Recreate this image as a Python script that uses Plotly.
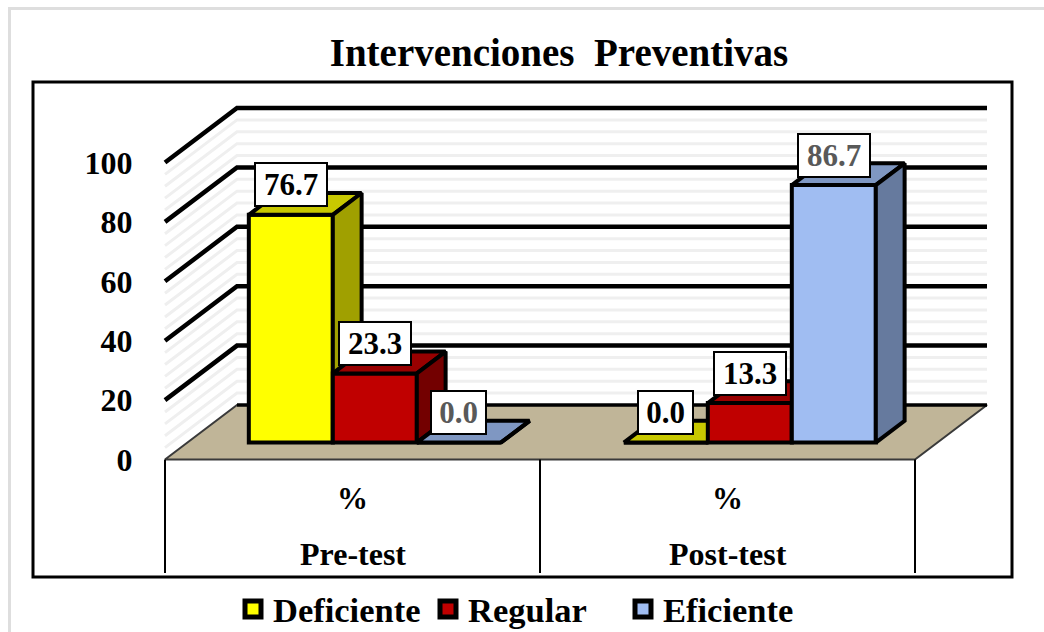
import plotly.graph_objects as go

# ---- data ----
categories = ["Pre-test", "Post-test"]
sub_label = "%"
deficiente = [76.7, 0.0]
regular = [23.3, 13.3]
eficiente = [0.0, 86.7]
series_names = ["Deficiente", "Regular", "Eficiente"]
y_ticks = [0, 20, 40, 60, 80, 100]
minor_step_values = [v for v in range(0, 101, 4) if v % 20 != 0]
title_text = "Intervenciones  Preventivas"

# ---- styles ----
FONT = "Liberation Serif, Times New Roman, serif"
front_colors = ["#FFFF00", "#C00000", "#A0BDF2"]
top_colors = ["#C8C800", "#990000", "#7F97C2"]
side_colors = ["#A0A000", "#730000", "#667A9E"]
label_colors = ["#000000", "#000000", "#595959"]

W, H = 1044, 632
FX0, FX1, FY0, FY1 = 33, 1012, 82, 577   # frame in px
PX0, PX_UNIT = 165, 375                  # x=0 px and px per category
PY0, PY_UNIT = 459.5, 2.97               # y=0 px and px per value unit
DX, DY = 72 / PX_UNIT, 54.5 / PY_UNIT    # oblique floor depth
F0, F1 = 0.31, 0.71                      # bar depth range
BAR_W = 84 / PX_UNIT

xr = [(FX0 - PX0) / PX_UNIT, (FX1 - PX0) / PX_UNIT]
yr = [(PY0 - FY1) / PY_UNIT, (PY0 - FY0) / PY_UNIT]
LOW = (PY0 - 573) / PY_UNIT

fig = go.Figure()


def line(xs, ys, color, width, axes=("x", "y")):
    fig.add_trace(go.Scatter(x=xs, y=ys, mode="lines", line=dict(color=color, width=width),
                             xaxis=axes[0], yaxis=axes[1], showlegend=False, hoverinfo="skip"))


def poly(xs, ys, fill, color="#000000", width=4, axes=("x", "y")):
    fig.add_trace(go.Scatter(x=xs + xs[:1], y=ys + ys[:1], mode="lines", fill="toself", fillcolor=fill,
                             line=dict(color=color, width=width), xaxis=axes[0], yaxis=axes[1],
                             showlegend=False, hoverinfo="skip"))


n = len(categories)
# minor then major gridlines on side and back walls
for v in minor_step_values:
    line([0, DX, n + DX], [v, v + DY, v + DY], "#EFEFEF", 3)
for v in y_ticks[1:]:
    line([0, DX, n + DX], [v, v + DY, v + DY], "#000000", 4.5)
# floor
poly([0, DX, n + DX, n], [0, DY, DY, 0], "#C0B598", "#3A3A3A", 2)
line([DX, n + DX], [DY, DY], "#000000", 3.5)
# category separators
for i in range(n + 1):
    line([i, i], [0, LOW], "#000000", 2)

# bars, one overlaid subplot per series so that the draw order is back to front
series = [deficiente, regular, eficiente]
annotations = []
for s, values in enumerate(series):
    ax = ("x%d" % (s + 2), "y%d" % (s + 2))
    centres = [i + 0.5 + (s - 1) * BAR_W + F0 * DX for i in range(n)]
    base = F0 * DY
    fig.add_trace(go.Bar(x=centres, y=values, base=[base] * n, width=BAR_W, xaxis=ax[0], yaxis=ax[1],
                         marker=dict(color=front_colors[s], line=dict(color="#000000", width=4)),
                         showlegend=False, hoverinfo="skip"))
    ddx, ddy = (F1 - F0) * DX, (F1 - F0) * DY
    for c, v in zip(centres, values):
        l, r, t = c - BAR_W / 2, c + BAR_W / 2, base + v
        poly([l, r, r + ddx, l + ddx], [t, t, t + ddy, t + ddy], top_colors[s], axes=ax)
        poly([r, r + ddx, r + ddx, r], [base, base + ddy, t + ddy, t], side_colors[s], axes=ax)
        txt = "%.1f" % v
        annotations.append(dict(x=c, y=t, xref="x", yref="y", yshift=30, text="<b>%s</b>" % txt, showarrow=False,
                                font=dict(family=FONT, size=31, color=label_colors[s]),
                                bgcolor="#FFFFFF", bordercolor="#000000", borderwidth=2,
                                width=17 * len(txt), height=39, xanchor="center", yanchor="middle"))

# legend keys
for s, name in enumerate(series_names):
    fig.add_trace(go.Scatter(x=[None], y=[None], mode="markers", name=name,
                             marker=dict(symbol="square", size=16, color=front_colors[s],
                                         line=dict(color="#000000", width=5)), hoverinfo="skip"))

# category labels
for i, cat in enumerate(categories):
    annotations.append(dict(x=i + 0.5, y=(PY0 - 498) / PY_UNIT, xref="x", yref="y", text="<b>%s</b>" % sub_label,
                            showarrow=False, font=dict(family=FONT, size=31, color="#000000")))
    annotations.append(dict(x=i + 0.5, y=(PY0 - 554) / PY_UNIT, xref="x", yref="y", text="<b>%s</b>" % cat,
                            showarrow=False, font=dict(family=FONT, size=32, color="#000000")))

shapes = [
    dict(type="rect", xref="paper", yref="paper", x0=9.5 / W, x1=1.1, y0=-0.1, y1=1 - 8.5 / H,
         line=dict(color="#DEDEDE", width=3), layer="below"),
    dict(type="rect", xref="paper", yref="paper", x0=FX0 / W, x1=FX1 / W, y0=1 - FY1 / H, y1=1 - FY0 / H,
         line=dict(color="#000000", width=3), layer="below"),
]

dom_x = [FX0 / W, FX1 / W]
dom_y = [1 - FY1 / H, 1 - FY0 / H]
layout = dict(
    width=W, height=H, margin=dict(l=0, r=0, t=0, b=0, pad=0, autoexpand=False),
    paper_bgcolor="#FFFFFF", plot_bgcolor="rgba(0,0,0,0)",
    title=dict(text="<b>%s</b>" % title_text, x=559 / W, xanchor="center", xref="paper",
               y=1 - 52 / H, yanchor="middle", yref="paper", font=dict(family=FONT, size=39, color="#000000")),
    legend=dict(orientation="h", x=233 / W, xanchor="left", y=1 - 609 / H, yanchor="middle",
                font=dict(family=FONT, size=34.5, color="#000000", weight="bold"), bgcolor="rgba(0,0,0,0)",
                entrywidth=150, entrywidthmode="pixels", itemclick=False, itemdoubleclick=False),
    xaxis=dict(domain=dom_x, range=xr, visible=False, fixedrange=True),
    yaxis=dict(domain=dom_y, range=yr, anchor="free", position=PX0 / W, showgrid=False, zeroline=False,
               showline=False, tickmode="array", tickvals=y_ticks, ticks="outside", ticklen=26,
               tickcolor="rgba(0,0,0,0)", tickfont=dict(family=FONT, size=32, color="#000000", weight="bold"),
               fixedrange=True),
    shapes=shapes, annotations=annotations, showlegend=True, barmode="overlay",
)
for s in range(len(series)):
    layout["xaxis%d" % (s + 2)] = dict(domain=dom_x, range=xr, overlaying="x", visible=False, fixedrange=True,
                                       anchor="y%d" % (s + 2))
    layout["yaxis%d" % (s + 2)] = dict(domain=dom_y, range=yr, overlaying="y", visible=False, fixedrange=True,
                                       anchor="x%d" % (s + 2))
fig.update_layout(**layout)
fig.write_html("out.html", config=dict(displayModeBar=False),
               post_script="document.body.style.margin='0';")
